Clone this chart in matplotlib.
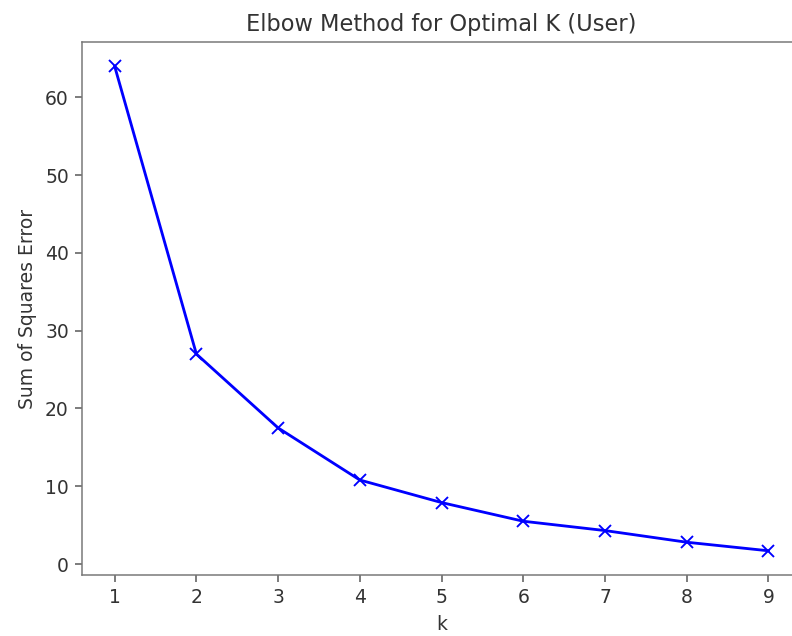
import matplotlib
matplotlib.use("Agg")
import matplotlib.pyplot as plt

k_values = [1, 2, 3, 4, 5, 6, 7, 8, 9]
sse = [64.0, 27.0, 17.5, 10.8, 7.9, 5.5, 4.3, 2.8, 1.7]

fig = plt.figure(figsize=(792 / 135, 636 / 135), dpi=135)
ax = fig.add_axes([0.1035, 0.0959, 0.908, 0.838])
ax.plot(k_values, sse, 'bx-')
ax.set_xlabel('k', color='#333333')
ax.set_ylabel('Sum of Squares Error', color='#333333')
ax.set_title('Elbow Method for Optimal K (User)', color='#333333')
for s in ax.spines.values():
    s.set_color('#777777')
# the reference is cropped just before the right edge of the axes
ax.spines['right'].set_visible(False)
ax.tick_params(colors='#555555', labelcolor='#333333')

fig.savefig('out.png', dpi=135)
